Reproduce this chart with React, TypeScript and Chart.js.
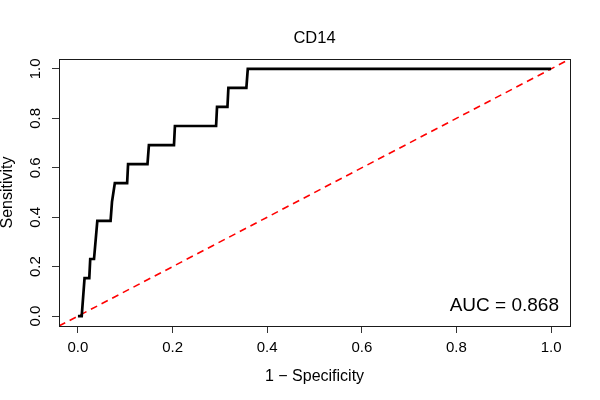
import React, { useEffect, useRef } from 'react';
import { Chart, registerables } from 'chart.js';

Chart.register(...registerables);

// ROC curve points (1 - specificity, sensitivity)
const fpr = [0, 0.008, 0.014, 0.024, 0.026, 0.034, 0.041, 0.069, 0.072, 0.078, 0.104, 0.106, 0.147, 0.150, 0.203, 0.205, 0.292, 0.294, 0.316, 0.318, 0.356, 0.359, 1.0];
const tpr = [0, 0, 0.154, 0.154, 0.231, 0.231, 0.385, 0.385, 0.462, 0.538, 0.538, 0.615, 0.615, 0.692, 0.692, 0.769, 0.769, 0.846, 0.846, 0.923, 0.923, 1.0, 1.0];

// reference diagonal (abline spanning the plot region)
const diagX = [-0.04, 1.04];
const diagY = [-0.04, 1.04];

const xTicks = [0, 0.2, 0.4, 0.6, 0.8, 1.0];
const yTicks = [0, 0.2, 0.4, 0.6, 0.8, 1.0];
const xTickLabels = ['0.0', '0.2', '0.4', '0.6', '0.8', '1.0'];
const yTickLabels = ['0.0', '0.2', '0.4', '0.6', '0.8', '1.0'];

const titleText = 'CD14';
const xTitle = '1 \u2212 Specificity';
const yTitle = 'Sensitivity';
const aucText = 'AUC = 0.868';

const FONT = '"Liberation Sans", Arial, Helvetica, sans-serif';

const rPlotPlugin = {
  id: 'rPlot',
  afterDraw(chart: any) {
    const { ctx, chartArea: a, scales } = chart;
    ctx.save();
    // box
    ctx.strokeStyle = '#1a1a1a';
    ctx.lineWidth = 1;
    ctx.strokeRect(Math.round(a.left) + 0.5, Math.round(a.top) + 0.5, Math.round(a.right - a.left), Math.round(a.bottom - a.top));

    ctx.fillStyle = '#000';
    // title
    ctx.font = `16.5px ${FONT}`;
    ctx.textAlign = 'center';
    ctx.textBaseline = 'alphabetic';
    const cx = (a.left + a.right) / 2;
    ctx.fillText(titleText, cx, a.top - 16.5);

    // x axis title
    ctx.font = `16px ${FONT}`;
    ctx.fillText(xTitle, cx, a.bottom + 55);

    // y tick labels (rotated, R style)
    const ys = scales.y;
    ctx.font = `15px ${FONT}`;
    ys.ticks.forEach((t: any, i: number) => {
      const py = ys.getPixelForValue(t.value);
      ctx.save();
      ctx.translate(a.left - 19, py);
      ctx.rotate(-Math.PI / 2);
      ctx.textAlign = 'center';
      ctx.textBaseline = 'alphabetic';
      ctx.fillText(yTickLabels[i], 0, 0);
      ctx.restore();
    });

    // y axis title
    ctx.save();
    ctx.font = `16px ${FONT}`;
    ctx.translate(a.left - 47, (a.top + a.bottom) / 2);
    ctx.rotate(-Math.PI / 2);
    ctx.textAlign = 'center';
    ctx.textBaseline = 'alphabetic';
    ctx.fillText(yTitle, 0, 0);
    ctx.restore();

    // AUC annotation
    ctx.font = `19px ${FONT}`;
    ctx.textAlign = 'right';
    ctx.textBaseline = 'alphabetic';
    ctx.fillText(aucText, a.right - 11, a.bottom - 15);

    ctx.restore();
  },
};

export default function App() {
  const ref = useRef<HTMLCanvasElement | null>(null);

  useEffect(() => {
    if (!ref.current) return;
    const chart = new Chart(ref.current, {
      type: 'line',
      data: {
        datasets: [
          {
            label: 'ROC',
            data: fpr.map((x, i) => ({ x, y: tpr[i] })),
            borderColor: '#000',
            borderWidth: 2.7,
            pointRadius: 0,
            tension: 0,
            fill: false,
            borderJoinStyle: 'miter',
          },
          {
            label: 'chance',
            data: diagX.map((x, i) => ({ x, y: diagY[i] })),
            borderColor: '#ff0000',
            borderWidth: 1.6,
            borderDash: [7, 5],
            pointRadius: 0,
            fill: false,
          },
        ],
      },
      options: {
        animation: false,
        responsive: false,
        devicePixelRatio: 1,
        layout: { padding: { top: 59, right: 30, bottom: 0, left: 0 } },
        plugins: {
          legend: { display: false },
          title: { display: false },
          tooltip: { enabled: false },
        },
        scales: {
          x: {
            type: 'linear',
            min: -0.04,
            max: 1.04,
            afterBuildTicks: (s: any) => {
              s.ticks = xTicks.map((value) => ({ value }));
            },
            afterFit: (s: any) => {
              s.height = 74;
            },
            ticks: {
              callback: (_v: any, i: number) => xTickLabels[i],
              font: { size: 15, family: FONT },
              color: '#000',
              padding: 6,
              maxRotation: 0,
              autoSkip: false,
            },
            grid: { drawOnChartArea: false, drawTicks: true, tickLength: 7, color: '#333', lineWidth: 1 },
            border: { display: false },
          },
          y: {
            type: 'linear',
            min: -0.04,
            max: 1.04,
            afterBuildTicks: (s: any) => {
              s.ticks = yTicks.map((value) => ({ value }));
            },
            afterFit: (s: any) => {
              s.width = 59;
            },
            ticks: { display: false },
            grid: { drawOnChartArea: false, drawTicks: true, tickLength: 7, color: '#333', lineWidth: 1 },
            border: { display: false },
          },
        },
      },
      plugins: [rPlotPlugin],
    });
    return () => chart.destroy();
  }, []);

  return (
    <div style={{ position: 'absolute', left: 0, top: 0, width: 600, height: 400, background: '#fff' }}>
      <canvas ref={ref} width={600} height={400} style={{ width: 600, height: 400, display: 'block' }} />
    </div>
  );
}
